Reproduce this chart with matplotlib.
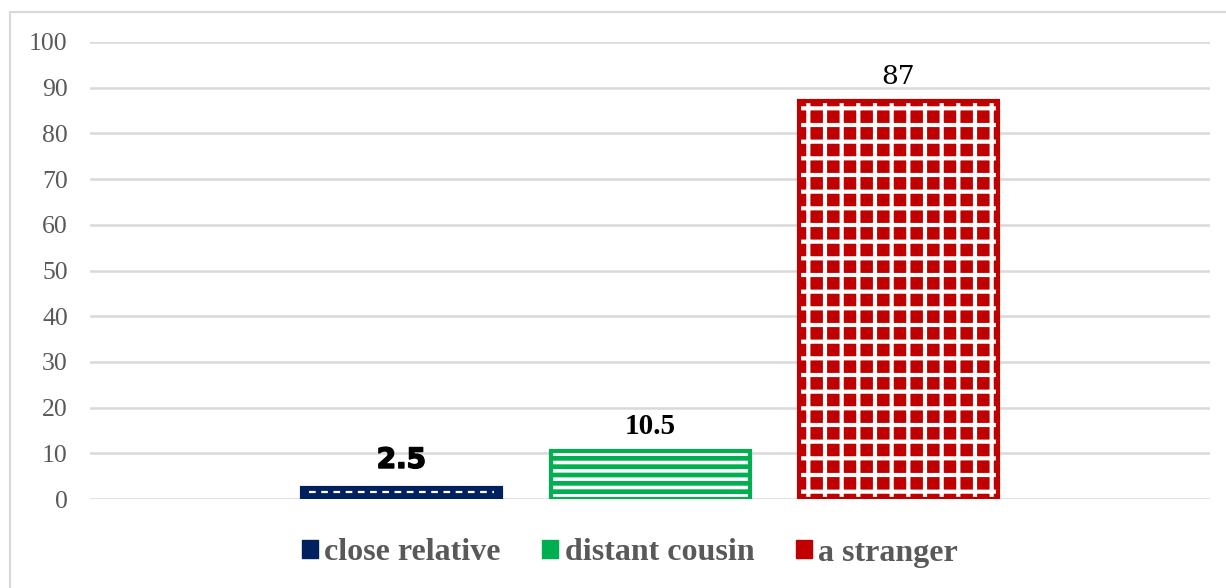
import matplotlib
matplotlib.use("Agg")
import matplotlib.pyplot as plt
import matplotlib.patheffects as pe
from matplotlib.patches import Patch, Rectangle
import numpy as np

# ---- data ----
series = ["close relative", "distant cousin", "a stranger"]
values = [2.5, 10.5, 87]
label_texts = ["2.5", "10.5", "87"]
yticks = [0, 10, 20, 30, 40, 50, 60, 70, 80, 90, 100]

# ---- styles ----
face_colors = ["#002060", "#00B050", "#C00000"]
hatches = [None, "--", "+"]
hatch_lw = [1.0, 2.6, 3.0]
plt.rcParams["hatch.linewidth"] = 2.8

W, H = 1226, 588
fig = plt.figure(figsize=(W / 100, H / 100), dpi=100)
fig.patch.set_facecolor("white")

# outer chart border
fig.patches.append(Rectangle((10 / W, -0.01), 1.2, 1 - 12 / H + 0.01,
                             transform=fig.transFigure, fill=False,
                             edgecolor="#d9d9d9", linewidth=1.5))

ax = fig.add_axes([90 / W, 1 - 499 / H, (1210 - 90) / W, (499 - 42) / H])
ax.set_ylim(0, 100)
ax.set_xlim(-0.5, 0.5)

bw = 199 / 1120
off = 248.5 / 1120
xs = [-off, 0, off]

for i, (x, v) in enumerate(zip(xs, values)):
    ax.bar(x, v, width=bw, color=face_colors[i], edgecolor="none", zorder=3)
    if hatches[i]:
        with plt.rc_context({"hatch.linewidth": hatch_lw[i]}):
            hb = ax.bar(x, v, width=bw, facecolor="none", edgecolor="white",
                        hatch=hatches[i], linewidth=0, zorder=4)
            for p in hb:
                try:
                    p.set_hatch_linewidth(hatch_lw[i])
                except Exception:
                    pass
    else:
        # dotted pattern: one visible row of white dashes
        ax.hlines(v * 0.6, x - bw / 2 + 0.006, x + bw / 2 - 0.006,
                  colors="white", linewidth=1.6, linestyles=(0, (3, 2.5)),
                  zorder=4)
    ax.bar(x, v, width=bw, facecolor="none", edgecolor=face_colors[i],
           linewidth=3, zorder=5)

# data labels
label_fonts = [
    dict(family="DejaVu Sans", weight="bold", size=20,
         path_effects=[pe.withStroke(linewidth=1.2, foreground="black")]),
    dict(family="Liberation Serif", weight="bold", size=21),
    dict(family="DejaVu Serif", weight="normal", size=19),
]
label_gap = [3.0, 2.5, 2.8]
for i, (x, v) in enumerate(zip(xs, values)):
    ax.text(x, v + label_gap[i], label_texts[i], ha="center", va="bottom",
            color="black", zorder=6, **label_fonts[i])

ax.set_yticks(yticks)
ax.set_xticks([])
ax.yaxis.grid(True, color="#d9d9d9", linewidth=1.8, zorder=0)
ax.set_axisbelow(True)
for s in ax.spines.values():
    s.set_visible(False)
ax.tick_params(axis="y", length=0, pad=16, labelsize=18.5, labelcolor="#595959")
for t in ax.get_yticklabels():
    t.set_fontfamily("Liberation Serif")

# legend
handles = [Patch(facecolor=face_colors[i], edgecolor=face_colors[i],
                 label=series[i]) for i in range(3)]
leg = fig.legend(handles=handles, loc="center",
                 bbox_to_anchor=(630 / W, 1 - 553 / H),
                 ncol=3, frameon=False, handlelength=0.5, handleheight=0.5,
                 handletextpad=0.2, columnspacing=1.3,
                 prop=dict(family="Liberation Serif", weight="bold", size=23))
for t in leg.get_texts():
    t.set_color("#595959")

fig.savefig("out.png", dpi=100, facecolor="white")
